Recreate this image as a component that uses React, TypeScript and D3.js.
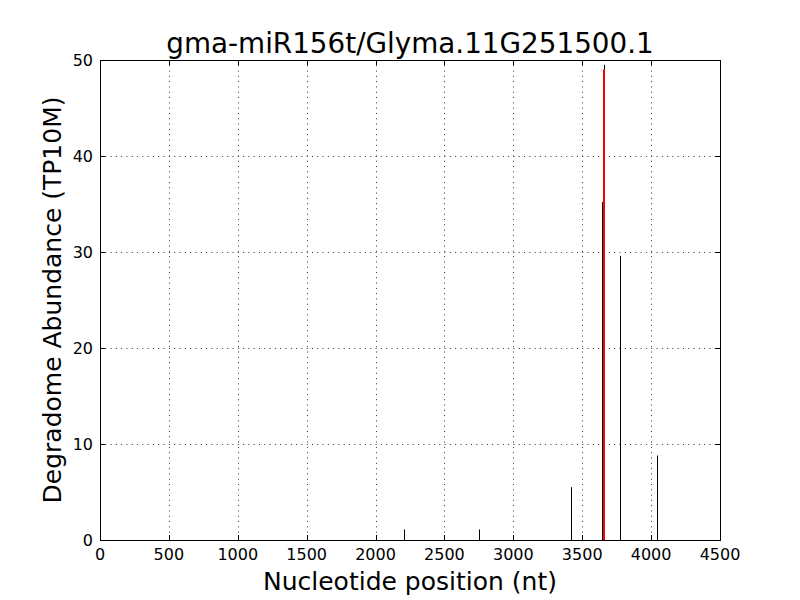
import React, { useEffect, useRef } from 'react';
import * as d3 from 'd3';

// Degradome reads along the transcript (nt position, TP10M)
const positions = [2209, 2753, 3416, 3645, 3658, 3776, 4040];
const abundances = [1.1, 1.1, 5.5, 35.2, 49.5, 29.6, 8.8];

// predicted miRNA cleavage site (drawn in red)
const sitePositions = [3655];
const siteAbundances = [49.0];

const xTicks = [0, 500, 1000, 1500, 2000, 2500, 3000, 3500, 4000, 4500];
const yTicks = [0, 10, 20, 30, 40, 50];

const title = 'gma-miR156t/Glyma.11G251500.1';
const xLabel = 'Nucleotide position (nt)';
const yLabel = 'Degradome Abundance (TP10M)';

const App: React.FC = () => {
  const svgRef = useRef<SVGSVGElement>(null);

  useEffect(() => {
    if (!svgRef.current) return;

    const svg = d3.select(svgRef.current);
    svg.selectAll('*').remove();

    const width = 800;
    const height = 600;
    const margin = { top: 60, right: 80, bottom: 60, left: 100 };
    const font = 'DejaVu Sans, sans-serif';

    svg.attr('width', width).attr('height', height);

    svg.append('rect')
      .attr('width', width)
      .attr('height', height)
      .attr('fill', '#ffffff');

    const x = d3.scaleLinear()
      .domain([0, 4500])
      .range([margin.left, width - margin.right]);

    const y = d3.scaleLinear()
      .domain([0, 50])
      .range([height - margin.bottom, margin.top]);

    const g = svg.append('g');

    // dotted grid
    xTicks.forEach(t => {
      g.append('line')
        .attr('x1', Math.round(x(t)) + 0.5)
        .attr('x2', Math.round(x(t)) + 0.5)
        .attr('y1', y(50))
        .attr('y2', y(0))
        .attr('stroke', '#333')
        .attr('stroke-width', 1)
        .attr('stroke-dasharray', '1,4.3');
    });
    yTicks.forEach(t => {
      g.append('line')
        .attr('x1', x(0))
        .attr('x2', x(4500))
        .attr('y1', Math.round(y(t)) + 0.5)
        .attr('y2', Math.round(y(t)) + 0.5)
        .attr('stroke', '#333')
        .attr('stroke-width', 1)
        .attr('stroke-dasharray', '1,4.3');
    });

    // black read lines
    positions.forEach((p, i) => {
      g.append('line')
        .attr('x1', Math.round(x(p)) + 0.5)
        .attr('x2', Math.round(x(p)) + 0.5)
        .attr('y1', y(0))
        .attr('y2', y(abundances[i]))
        .attr('stroke', '#000')
        .attr('stroke-width', 1);
    });

    // red cleavage site
    sitePositions.forEach((p, i) => {
      g.append('line')
        .attr('x1', Math.round(x(p)))
        .attr('x2', Math.round(x(p)))
        .attr('y1', y(0))
        .attr('y2', y(siteAbundances[i]))
        .attr('stroke', '#ff0000')
        .attr('stroke-width', 2);
    });

    // frame
    g.append('rect')
      .attr('x', x(0) + 0.5)
      .attr('y', y(50) + 0.5)
      .attr('width', x(4500) - x(0))
      .attr('height', y(0) - y(50))
      .attr('fill', 'none')
      .attr('stroke', '#000')
      .attr('stroke-width', 1);

    const tickLen = 5;

    // x ticks (inward, bottom and top)
    xTicks.forEach(t => {
      const px = Math.round(x(t)) + 0.5;
      g.append('line')
        .attr('x1', px).attr('x2', px)
        .attr('y1', y(0)).attr('y2', y(0) - tickLen)
        .attr('stroke', '#000');
      g.append('line')
        .attr('x1', px).attr('x2', px)
        .attr('y1', y(50)).attr('y2', y(50) + tickLen)
        .attr('stroke', '#000');
      g.append('text')
        .attr('x', x(t))
        .attr('y', 560)
        .attr('text-anchor', 'middle')
        .attr('font-family', font)
        .attr('font-size', '16px')
        .attr('fill', '#000')
        .text(t);
    });

    // y ticks (inward, left and right)
    yTicks.forEach(t => {
      const py = Math.round(y(t)) + 0.5;
      g.append('line')
        .attr('x1', x(0)).attr('x2', x(0) + tickLen)
        .attr('y1', py).attr('y2', py)
        .attr('stroke', '#000');
      g.append('line')
        .attr('x1', x(4500)).attr('x2', x(4500) - tickLen)
        .attr('y1', py).attr('y2', py)
        .attr('stroke', '#000');
      g.append('text')
        .attr('x', 93)
        .attr('y', y(t) + 6)
        .attr('text-anchor', 'end')
        .attr('font-family', font)
        .attr('font-size', '16px')
        .attr('fill', '#000')
        .text(t);
    });

    // title and axis labels
    svg.append('text')
      .attr('x', (x(0) + x(4500)) / 2)
      .attr('y', 53)
      .attr('text-anchor', 'middle')
      .attr('font-family', font)
      .attr('font-size', '27.8px')
      .attr('fill', '#000')
      .text(title);

    svg.append('text')
      .attr('x', (x(0) + x(4500)) / 2)
      .attr('y', 590)
      .attr('text-anchor', 'middle')
      .attr('font-family', font)
      .attr('font-size', '25px')
      .attr('fill', '#000')
      .text(xLabel);

    svg.append('text')
      .attr('transform', `translate(61, ${(y(0) + y(50)) / 2}) rotate(-90)`)
      .attr('text-anchor', 'middle')
      .attr('font-family', font)
      .attr('font-size', '25px')
      .attr('fill', '#000')
      .text(yLabel);
  }, []);

  return (
    <svg ref={svgRef} style={{ position: 'absolute', left: 0, top: 0, display: 'block' }}></svg>
  );
};

export default App;
